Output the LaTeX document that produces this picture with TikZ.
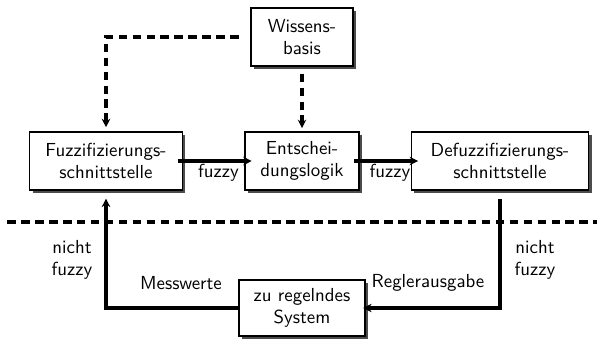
\documentclass[tikz,border=0pt]{standalone}
\usepackage{tikz}
\usetikzlibrary{arrows.meta,shadows}

\begin{document}
\begin{tikzpicture}
        [x=0.53pt,y=-0.53pt,font=\sffamily,
         block/.style={draw,thick,fill=white,align=center,minimum height=31pt,inner sep=2pt,
           drop shadow={shadow xshift=1.6pt,shadow yshift=-1.6pt,fill=black!70,opacity=1}},
         flow/.style={line width=1.8pt,-{Stealth[length=4.5pt,width=4.5pt]}},
         dashflow/.style={flow,dash pattern=on 4.6pt off 2.8pt},
         label/.style={align=center,inner sep=1pt}]
        \useasboundingbox (0,0) rectangle (597,339);

        \node[block,minimum width=54pt] (wissen) at (302,37) {Wissens-\\basis};
        \node[block,minimum width=81pt] (fuzz) at (106,161) {Fuzzifizierungs-\\schnittstelle};
        \node[block,minimum width=60.5pt] (entsch) at (302,161) {Entschei-\\dungslogik};
        \node[block,minimum width=94pt] (defuzz) at (500,161) {Defuzzifizierungs-\\schnittstelle};
        \node[block,minimum width=67pt,minimum height=29.5pt] (system) at (302,308) {zu regelndes\\System};

        \coordinate (sl) at (7,222);
        \coordinate (sr) at (597,222);

        \foreach \from/\to in {fuzz/entsch, entsch/defuzz}
            \draw[flow,shorten <=-3pt,shorten >=-4pt] (\from) -- node[label,below,xshift=2.5pt] {fuzzy} (\to);

        \draw[dashflow,shorten <=6pt,shorten >=2pt] (wissen.west) -| (fuzz.north);
        \draw[dashflow,shorten <=3.5pt,shorten >=1.5pt] (wissen.south) -- (entsch.north);
        \draw[line width=1.8pt,dash pattern=on 4.6pt off 2.8pt] (sl) -- (sr);

        \draw[flow,shorten >=4pt] (system.west) -| (fuzz.south);
        \draw[flow,shorten <=4pt,shorten >=-1.5pt] (defuzz.south) |- (system.east);

        \node[label] (nfl) at (72,260) {nicht\\fuzzy};
        \node[label] (nfr) at (535,260) {nicht\\fuzzy};
        \node[label] (mess) at (181,283) {Messwerte};
        \node[label] (regler) at (428,283) {Reglerausgabe};

      \end{tikzpicture}
\end{document}
